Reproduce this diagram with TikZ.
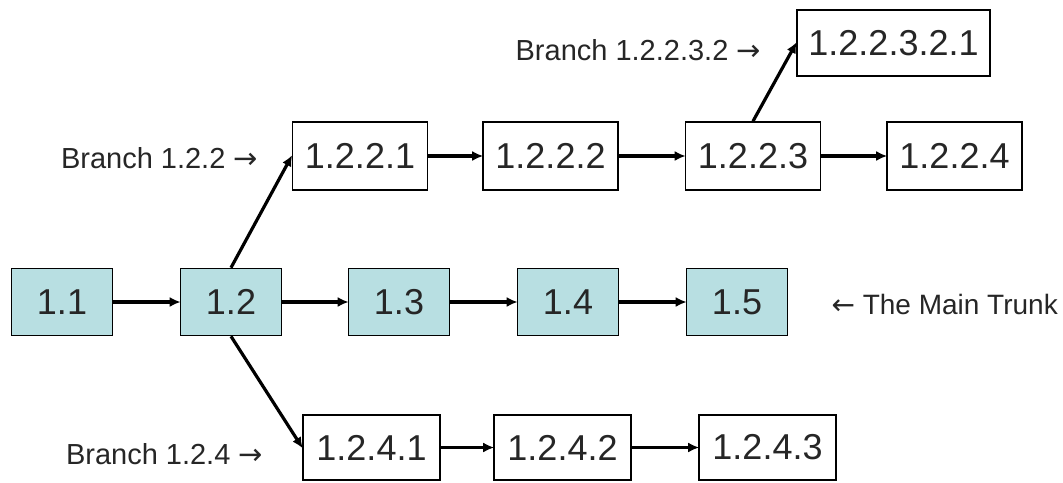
\documentclass[tikz,border=0pt]{standalone}
\usepackage{fontspec}
\setmainfont{Liberation Sans}
\newfontfamily\arrowfont{DejaVu Sans}
\usetikzlibrary{arrows.meta}
\definecolor{trunkfill}{RGB}{184,223,226}
\newcommand{\rarr}{{\arrowfont →}}
\newcommand{\larr}{{\arrowfont ←}}
\begin{document}
\begin{tikzpicture}[x=1pt,y=-1pt,
  box/.style={draw=black,line width=1.6pt,fill=white,inner sep=0pt,
    font=\fontsize{36}{40}\selectfont,text=black!85},
  trunk/.style={box,fill=trunkfill,minimum width=101pt,minimum height=67pt},
  branchbox/.style={box,minimum width=135pt,minimum height=68pt},
  lowbox/.style={box,minimum width=137pt,minimum height=65pt},
  lbl/.style={font=\fontsize{29}{32}\selectfont,text=black!85,inner sep=0pt},
  conn/.style={line width=3.2pt,-{Latex[length=11pt,width=10pt]},shorten >=-1pt}]
\useasboundingbox (0,0) rectangle (1063,482);
% main trunk
\node[trunk] (n11) at (62,302) {1.1};
\node[trunk] (n12) at (231,302) {1.2};
\node[trunk] (n13) at (399,302) {1.3};
\node[trunk] (n14) at (568,302) {1.4};
\node[trunk] (n15) at (737,302) {1.5};
% branch 1.2.2
\node[branchbox] (n1221) at (360,156) {1.2.2.1};
\node[branchbox] (n1222) at (550.5,156) {1.2.2.2};
\node[branchbox] (n1223) at (753,156) {1.2.2.3};
\node[branchbox] (n1224) at (954.5,156) {1.2.2.4};
\node[box,minimum width=193pt,minimum height=66pt] (n122321) at (893.5,43) {1.2.2.3.2.1};
% branch 1.2.4
\node[lowbox] (n1241) at (371.5,447.5) {1.2.4.1};
\node[lowbox] (n1242) at (562.5,447.5) {1.2.4.2};
\node[lowbox] (n1243) at (767.5,447.5) {1.2.4.3};
% labels
\node[lbl,anchor=east] (l122) at (258,158) {Branch 1.2.2 \rarr};
\node[lbl,anchor=east] (l12232) at (761,50) {Branch 1.2.2.3.2 \rarr};
\node[lbl,anchor=east] (l124) at (263,454) {Branch 1.2.4 \rarr};
\node[lbl,anchor=east,font=\fontsize{28}{31}\selectfont] (ltrunk) at (1058,304) {\larr\ The Main Trunk};
% connectors
\draw[conn] (n11.east) -- (n12.west);
\draw[conn] (n12.east) -- (n13.west);
\draw[conn] (n13.east) -- (n14.west);
\draw[conn] (n14.east) -- (n15.west);
\draw[conn] (n12.north) -- (n1221.west);
\draw[conn] (n12.south) -- (n1241.west);
\draw[conn] (n1221.east) -- (n1222.west);
\draw[conn] (n1222.east) -- (n1223.west);
\draw[conn] (n1223.east) -- (n1224.west);
\draw[conn] (n1223.north) -- (n122321.west);
\draw[conn] (n1241.east) -- (n1242.west);
\draw[conn] (n1242.east) -- (n1243.west);
\end{tikzpicture}
\end{document}
